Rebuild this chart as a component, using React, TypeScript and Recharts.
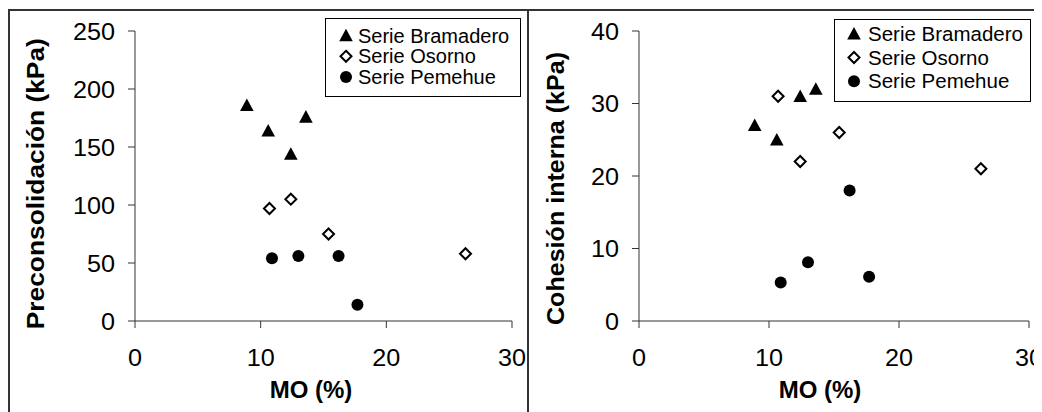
import { ScatterChart, Scatter, XAxis, YAxis } from 'recharts'

// MO (%) per series, shared by both panels
const moBramadero = [8.9, 10.6, 12.4, 13.6]
const moOsorno = [10.7, 12.4, 15.4, 26.3]
const moPemehue = [10.9, 13.0, 16.2, 17.7]

// Preconsolidación (kPa)
const precBramadero = [186, 164, 144, 176]
const precOsorno = [97, 105, 75, 58]
const precPemehue = [54, 56, 56, 14]

// Cohesión interna (kPa)
const cohBramadero = [27, 25, 31, 32]
const cohOsorno = [31, 22, 26, 21]
const cohPemehue = [5.3, 8.1, 18, 6.1]

const seriesNames = ['Serie Bramadero', 'Serie Osorno', 'Serie Pemehue']
const xTicks = [0, 10, 20, 30]
const precTicks = [0, 50, 100, 150, 200, 250]
const cohTicks = [0, 10, 20, 30, 40]

const FONT = "'Liberation Sans', Arial, Helvetica, sans-serif"
const AXIS = '#333'
const PLOT_TOP = 23
const PLOT_H = 290
const TICK_STRETCH = 1.05

const zip = (xs: number[], ys: number[]) => xs.map((x, i) => ({ x, y: ys[i] }))

type MarkerKind = 'triangle' | 'diamond' | 'circle'
const KINDS: MarkerKind[] = ['triangle', 'diamond', 'circle']

function Marker({ kind, cx, cy }: { kind: MarkerKind; cx: number; cy: number }) {
  if (kind === 'triangle') {
    return <polygon points={`${cx},${cy - 6.8} ${cx + 6.8},${cy + 5.8} ${cx - 6.8},${cy + 5.8}`} fill="#000" />
  }
  if (kind === 'diamond') {
    return (
      <polygon
        points={`${cx},${cy - 5.5} ${cx + 5.5},${cy} ${cx},${cy + 5.5} ${cx - 5.5},${cy}`}
        fill="#fff"
        stroke="#000"
        strokeWidth={2}
      />
    )
  }
  return <circle cx={cx} cy={cy} r={6} fill="#000" />
}

const shapeFor = (kind: MarkerKind) => (p: any) => <Marker kind={kind} cx={p.cx} cy={p.cy} />

// tick labels in the original are a touch wider than Arial
function Tick({ x, y, payload, textAnchor, verticalAnchor }: any) {
  const dy = verticalAnchor === 'start' ? '0.71em' : verticalAnchor === 'end' ? '0' : '0.355em'
  return (
    <g transform={`translate(${x},${y}) scale(${TICK_STRETCH},1)`}>
      <text x={0} y={0} dy={dy} textAnchor={textAnchor} fontFamily={FONT} fontSize={24} fill="#000">
        {payload.value}
      </text>
    </g>
  )
}

function YTitle({ text, posX, posY, length }: any) {
  return (
    <text
      x={posX}
      y={posY}
      transform={`rotate(-90, ${posX}, ${posY})`}
      textAnchor="middle"
      fontFamily={FONT}
      fontWeight="bold"
      fontSize={24}
      fill="#000"
      textLength={length}
      lengthAdjust="spacingAndGlyphs"
    >
      {text}
    </text>
  )
}

function XTitle({ text, posX, posY }: any) {
  return (
    <text x={posX} y={posY} textAnchor="middle" fontFamily={FONT} fontWeight="bold" fontSize={24} fill="#000">
      {text}
    </text>
  )
}

function LegendBox({ left, top, width, height, firstY, step, textX, markerX, fontSize }: any) {
  return (
    <svg style={{ position: 'absolute', left, top }} width={width} height={height}>
      <rect x={0.5} y={0.5} width={width - 1} height={height - 1} fill="#fff" stroke="#000" />
      {seriesNames.map((name, i) => (
        <g key={name}>
          <Marker kind={KINDS[i]} cx={markerX} cy={firstY + i * step - 7} />
          <text x={textX} y={firstY + i * step} fontFamily={FONT} fontSize={fontSize} fill="#000">
            {name}
          </text>
        </g>
      ))}
    </svg>
  )
}

function Panel({
  width,
  yWidth,
  right,
  yDomain,
  yTicks,
  data,
  yTitle,
  yTitleX,
  yTitleDy,
  yTitleLen,
  xTitleX,
}: any) {
  return (
    <ScatterChart width={width} height={404} margin={{ top: PLOT_TOP, right, bottom: 0, left: 0 }}>
      <XAxis
        type="number"
        dataKey="x"
        domain={[0, 30]}
        ticks={xTicks}
        interval={0}
        height={91}
        tickSize={7}
        tickMargin={21}
        axisLine={{ stroke: AXIS }}
        tickLine={{ stroke: AXIS }}
        tick={<Tick />}
        label={<XTitle text="MO (%)" posX={xTitleX} posY={390} />}
      />
      <YAxis
        type="number"
        dataKey="y"
        domain={yDomain}
        ticks={yTicks}
        interval={0}
        width={yWidth}
        tickSize={7}
        tickMargin={13}
        axisLine={{ stroke: AXIS }}
        tickLine={{ stroke: AXIS }}
        tick={<Tick />}
        label={<YTitle text={yTitle} posX={yTitleX} posY={PLOT_TOP + PLOT_H / 2 + yTitleDy} length={yTitleLen} />}
      />
      {data.map((d: any[], i: number) => (
        <Scatter key={seriesNames[i]} name={seriesNames[i]} data={d} shape={shapeFor(KINDS[i])} isAnimationActive={false} />
      ))}
    </ScatterChart>
  )
}

export default function App() {
  const precData = [zip(moBramadero, precBramadero), zip(moOsorno, precOsorno), zip(moPemehue, precPemehue)]
  const cohData = [zip(moBramadero, cohBramadero), zip(moOsorno, cohOsorno), zip(moPemehue, cohPemehue)]

  return (
    <div style={{ position: 'relative', width: 1034, height: 404, fontFamily: FONT, background: '#fff' }}>
      <div style={{ position: 'absolute', left: 0, top: 0 }}>
        <Panel
          width={519}
          yWidth={127}
          right={15}
          yDomain={[0, 250]}
          yTicks={precTicks}
          data={precData}
          yTitle="Preconsolidación (kPa)"
          yTitleX={36}
          yTitleDy={7.7}
          yTitleLen={291}
          xTitleX={303}
        />
      </div>
      <div style={{ position: 'absolute', left: 521, top: 0 }}>
        <Panel
          width={513}
          yWidth={110}
          right={13}
          yDomain={[0, 40]}
          yTicks={cohTicks}
          data={cohData}
          yTitle="Cohesión interna (kPa)"
          yTitleX={35}
          yTitleDy={12.5}
          yTitleLen={273}
          xTitleX={291}
        />
      </div>
      <LegendBox left={317} top={10} width={196} height={79} firstY={24.5} step={20.8} textX={33} markerX={21} fontSize={20} />
      <LegendBox left={826} top={11} width={197} height={83} firstY={21.7} step={23.8} textX={34} markerX={20} fontSize={20.5} />
      {/* frame lines */}
      <div style={{ position: 'absolute', left: 0, top: 1, width: 1034, height: 2, background: AXIS }} />
      <div style={{ position: 'absolute', left: 0, top: 1, width: 2, height: 403, background: AXIS }} />
      <div style={{ position: 'absolute', left: 519, top: 1, width: 2, height: 403, background: AXIS }} />
    </div>
  )
}
